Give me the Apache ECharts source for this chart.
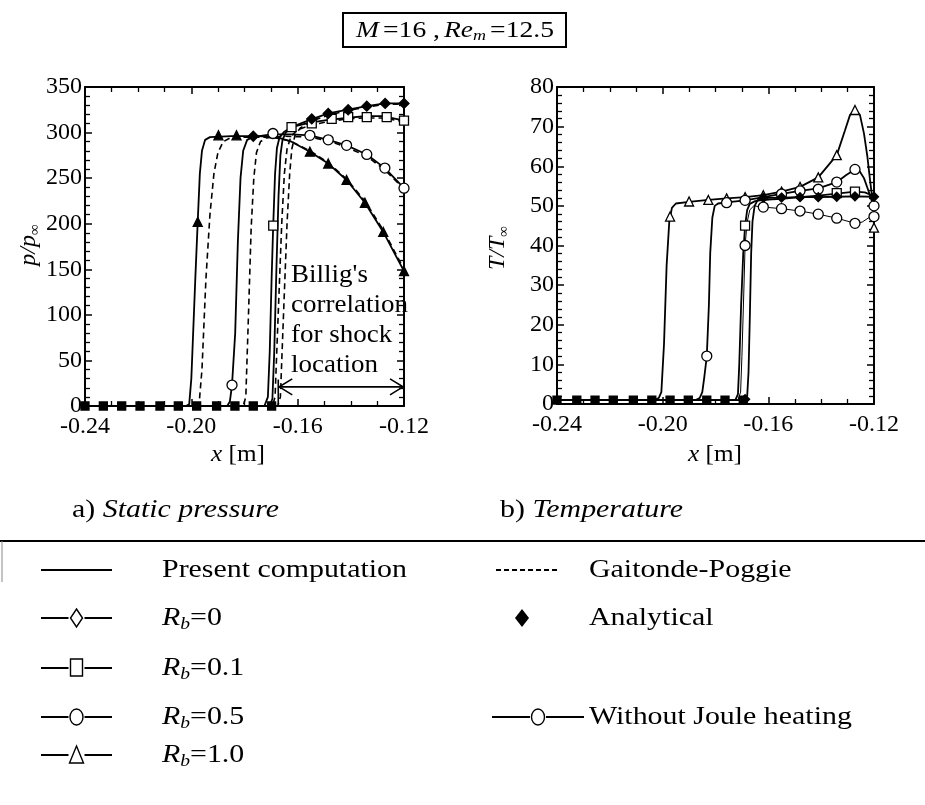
<!DOCTYPE html>
<html><head><meta charset="utf-8">
<script src="https://cdn.jsdelivr.net/npm/echarts@6/dist/echarts.min.js"></script>
<style>html,body{margin:0;padding:0;background:#fff}#c{width:925px;height:805px}</style>
</head><body><div id="c"></div>
<script>
// ---------- tick settings ----------
const xRange = [-0.24, -0.12];
const xStep = 0.04;
const pRange = [0, 350];
const pStep = 50;
const tRange = [0, 80];
const tStep = 10;

// ---------- (a) static pressure p/p_inf : present computation (solid) ----------
const pSolidRb1 = [[-0.24,0],[-0.202,0],[-0.2008,2],[-0.2,30],[-0.1985,140],[-0.1976,202],[-0.1968,255],[-0.196,280],[-0.1948,292],[-0.193,295],[-0.185,296],[-0.175,296],[-0.168,295],[-0.1623,290],[-0.1554,279],[-0.1485,266],[-0.1416,248],[-0.1347,223],[-0.1278,191],[-0.124,170],[-0.12,148]];
const pSolidRb05 = [[-0.24,0],[-0.1865,0],[-0.1855,5],[-0.1847,23],[-0.1835,80],[-0.1825,180],[-0.1815,250],[-0.1805,280],[-0.179,292],[-0.177,295],[-0.17,298],[-0.1623,298],[-0.1554,297],[-0.1485,292],[-0.1416,286],[-0.134,276],[-0.1272,261],[-0.12,239]];
const pSolidRb01 = [[-0.24,0],[-0.1725,0],[-0.1712,10],[-0.1705,60],[-0.1698,140],[-0.1692,198],[-0.1685,255],[-0.1678,283],[-0.1668,295],[-0.165,301],[-0.1623,306],[-0.1554,311],[-0.1485,314],[-0.1416,316],[-0.1347,318],[-0.1278,318],[-0.12,313]];
const pSolidRb0 = [[-0.24,0],[-0.1705,0],[-0.1695,8],[-0.1688,60],[-0.168,150],[-0.1672,230],[-0.1665,275],[-0.1657,292],[-0.1645,300],[-0.1623,306],[-0.1554,314],[-0.1485,321],[-0.1416,325],[-0.134,329],[-0.1272,332],[-0.12,332]];
// Gaitonde-Poggie (dashed)
const pDashRb1 = [[-0.24,0],[-0.198,0],[-0.197,5],[-0.196,40],[-0.1945,140],[-0.193,210],[-0.1915,255],[-0.19,278],[-0.188,290],[-0.1855,294],[-0.18,295],[-0.17,295],[-0.163,291],[-0.1554,280],[-0.1485,267],[-0.1416,249],[-0.1347,225],[-0.1278,193],[-0.12,150]];
const pDashRb05 = [[-0.24,0],[-0.1805,0],[-0.1795,10],[-0.1785,100],[-0.1775,195],[-0.1765,250],[-0.1755,278],[-0.174,290],[-0.172,294],[-0.165,296],[-0.1554,295],[-0.1485,291],[-0.1416,284],[-0.134,274],[-0.1272,259],[-0.12,238]];
const pDashRb01 = [[-0.24,0],[-0.1695,0],[-0.1685,10],[-0.1672,110],[-0.166,200],[-0.165,255],[-0.164,282],[-0.1625,296],[-0.16,303],[-0.1554,308],[-0.1485,312],[-0.1416,315],[-0.1347,316],[-0.1278,316],[-0.12,312]];
const pDashRb0 = [[-0.24,0],[-0.1675,0],[-0.1665,10],[-0.1652,110],[-0.164,200],[-0.163,255],[-0.1622,282],[-0.161,297],[-0.159,305],[-0.1554,312],[-0.1485,319],[-0.1416,324],[-0.134,328],[-0.1272,331],[-0.12,331]];
// markers
const pBaseMarks = [[-0.24,0],[-0.2331,0],[-0.2262,0],[-0.2193,0],[-0.2118,0],[-0.2049,0],[-0.198,0],[-0.1905,0],[-0.1836,0],[-0.1767,0],[-0.1698,0]];
const pRb1Marks = [[-0.1976,202],[-0.1898,297],[-0.183,297],[-0.1554,279],[-0.1485,266],[-0.1416,248],[-0.1347,223],[-0.1278,191],[-0.12,148]];
const pRb05Marks = [[-0.1847,23],[-0.1693,299],[-0.1554,297],[-0.1485,292],[-0.1416,286],[-0.134,276],[-0.1272,261],[-0.12,239]];
const pRb01Marks = [[-0.1692,198],[-0.1623,306],[-0.1547,310],[-0.1472,315],[-0.141,317],[-0.134,317],[-0.1265,317],[-0.12,313]];
const pRb0Marks = [[-0.1767,296],[-0.1547,315],[-0.1485,321],[-0.141,325],[-0.134,329],[-0.1271,332],[-0.12,332]];
// Billig's correlation: [x start, x end, arrow level, bar height]
const billigArrow = [[-0.1673, -0.12, 21, 29]];

// ---------- (b) temperature T/T_inf ----------
const tSolidRb1 = [[-0.24,1],[-0.203,1],[-0.2015,1.5],[-0.2005,3],[-0.1995,15],[-0.1985,35],[-0.1975,46],[-0.1965,49.5],[-0.195,50.6],[-0.19,51],[-0.1827,51.5],[-0.1758,51.9],[-0.1688,52.2],[-0.1619,52.7],[-0.155,53.6],[-0.148,54.8],[-0.1411,57.2],[-0.1341,62.8],[-0.131,69],[-0.1291,72.9],[-0.1272,74.4],[-0.1253,72.9],[-0.1238,68.3],[-0.1225,62.4],[-0.1215,56.5],[-0.1203,50],[-0.12,44.5]];
const tSolidRb05 = [[-0.24,1],[-0.1875,1],[-0.186,1.5],[-0.185,3],[-0.1842,7],[-0.1833,12],[-0.1825,25],[-0.182,38],[-0.1812,47],[-0.1803,50],[-0.179,50.6],[-0.1758,50.9],[-0.1688,51.4],[-0.1619,52.2],[-0.155,53],[-0.148,53.8],[-0.1411,54.4],[-0.1341,56],[-0.1305,57.8],[-0.1272,59.2],[-0.1255,58.8],[-0.1238,57],[-0.1222,54],[-0.121,51.5],[-0.12,50]];
const tSolidRb01 = [[-0.24,1],[-0.1725,1],[-0.1715,2.5],[-0.171,10],[-0.1703,25],[-0.1695,38],[-0.1688,45],[-0.168,49],[-0.167,50.5],[-0.165,51.2],[-0.1619,51.5],[-0.155,51.8],[-0.148,52.2],[-0.1411,52.6],[-0.1341,53.1],[-0.1272,53.6],[-0.1235,53.4],[-0.12,52.5]];
const tSolidRb0 = [[-0.24,1],[-0.169,1],[-0.168,2],[-0.1675,8],[-0.167,22],[-0.1665,38],[-0.166,46],[-0.1652,50],[-0.164,51.5],[-0.16,52],[-0.155,52.1],[-0.148,52.2],[-0.1411,52.2],[-0.1341,52.3],[-0.1272,52.4],[-0.12,52.3]];
const tNoJoule = [[-0.24,1],[-0.1715,1],[-0.1705,3],[-0.17,12],[-0.1693,28],[-0.1688,40],[-0.168,46],[-0.167,49],[-0.1655,50],[-0.1619,49.7],[-0.155,49.3],[-0.148,48.7],[-0.1411,47.9],[-0.1341,46.9],[-0.1272,45.6],[-0.1245,45.9],[-0.122,47],[-0.12,47.3]];
const tBaseMarks = [[-0.24,1],[-0.2325,1],[-0.2256,1],[-0.2187,1],[-0.2111,1],[-0.2041,1],[-0.1972,1],[-0.1903,1],[-0.1833,1],[-0.1764,1],[-0.1695,1]];
const tRb1Marks = [[-0.1972,47.3],[-0.19,51.1],[-0.1827,51.5],[-0.1758,51.9],[-0.1688,52.2],[-0.1619,52.7],[-0.155,53.6],[-0.148,54.8],[-0.1411,57.2],[-0.1341,62.8],[-0.1272,74.2],[-0.12,44.5]];
const tRb05Marks = [[-0.1833,12.1],[-0.1758,50.8],[-0.1688,51.4],[-0.155,53],[-0.148,53.8],[-0.1411,54.2],[-0.1341,56],[-0.1272,59.2],[-0.12,50]];
const tRb01Marks = [[-0.1688,45],[-0.1341,53.2],[-0.1272,53.6]];
const tRb0Marks = [[-0.1688,1.2],[-0.1619,52],[-0.155,52.1],[-0.148,52.2],[-0.1411,52.2],[-0.1341,52.3],[-0.1272,52.4],[-0.12,52.3]];
const tNoJouleMarks = [[-0.1688,40],[-0.1619,49.7],[-0.155,49.3],[-0.148,48.7],[-0.1411,47.9],[-0.1341,46.9],[-0.1272,45.6],[-0.12,47.3]];

// ---------- legend labels ----------
const legendRows = [
  ['solid', '{n|Present computation}', 'dash', '{n|Gaitonde-Poggie}'],
  ['diamond', '{i|R}{s|b}{n|=0}', 'fdiamond', '{n|Analytical}'],
  ['rect', '{i|R}{s|b}{n|=0.1}', null, null],
  ['circle', '{i|R}{s|b}{n|=0.5}', 'circle', '{n|Without Joule heating}'],
  ['triangle', '{i|R}{s|b}{n|=1.0}', null, null]
];

// ================= build =================
const F = "'Liberation Serif', 'Times New Roman', serif";
const chart = echarts.init(document.getElementById('c'));

function xAx(grid, pos, labels) {
  return {
    type: 'value', gridIndex: grid, position: pos, min: xRange[0], max: xRange[1], interval: xStep,
    axisLine: {show: true, onZero: false, lineStyle: {color: '#000', width: 2}},
    axisTick: {show: true, inside: true, length: 7, lineStyle: {color: '#000', width: 1.5}},
    minorTick: {show: true, splitNumber: 4, length: 5, lineStyle: {color: '#000', width: 1.3}},
    splitLine: {show: false}, minorSplitLine: {show: false},
    axisLabel: {show: labels, margin: 9, color: '#000', fontFamily: F, fontSize: 24,
      formatter: v => v.toFixed(2)}
  };
}
function yAx(grid, pos, rng, step, minor, labels) {
  return {
    type: 'value', gridIndex: grid, position: pos, min: rng[0], max: rng[1], interval: step,
    axisLine: {show: true, onZero: false, lineStyle: {color: '#000', width: 2}},
    axisTick: {show: true, inside: true, length: 7, lineStyle: {color: '#000', width: 1.5}},
    minorTick: {show: true, splitNumber: minor, length: 5, lineStyle: {color: '#000', width: 1.3}},
    splitLine: {show: false}, minorSplitLine: {show: false},
    axisLabel: {show: labels, margin: 3, color: '#000', fontFamily: F, fontSize: 24}
  };
}
function ln(data, xi, yi, width, dashed) {
  return {type: 'line', xAxisIndex: xi, yAxisIndex: yi, data: data, symbol: 'none', smooth: false,
    silent: true, animation: false, z: 2, clip: true,
    lineStyle: {color: '#000', width: width, type: dashed ? [6, 4] : 'solid'}};
}
function mk(data, xi, yi, symbol, size, filled) {
  return {type: 'scatter', xAxisIndex: xi, yAxisIndex: yi, data: data, symbol: symbol, symbolSize: size,
    silent: true, animation: false, z: 3,
    itemStyle: {color: filled ? '#000' : '#fff', borderColor: '#000', borderWidth: 1.3, opacity: 1}};
}

const series = [
  ln(pSolidRb1, 0, 0, 1.8), ln(pSolidRb05, 0, 0, 1.8), ln(pSolidRb01, 0, 0, 1.8), ln(pSolidRb0, 0, 0, 1.8),
  ln(pDashRb1, 0, 0, 1.6, true), ln(pDashRb05, 0, 0, 1.6, true), ln(pDashRb01, 0, 0, 1.6, true), ln(pDashRb0, 0, 0, 1.6, true),
  mk(pBaseMarks, 0, 0, 'rect', 8, true),
  mk(pRb1Marks, 0, 0, 'triangle', 9, true),
  mk(pRb05Marks, 0, 0, 'circle', 10, false),
  mk(pRb01Marks, 0, 0, 'rect', 9, false),
  mk(pRb0Marks, 0, 0, 'diamond', 10, true),
  {
    type: 'custom', xAxisIndex: 0, yAxisIndex: 0, data: billigArrow, silent: true, animation: false, z: 4,
    encode: {x: [0, 1], y: [2, 3]},
    renderItem: function (params, api) {
      const a = api.coord([api.value(0), api.value(2)]);
      const b = api.coord([api.value(1), api.value(2)]);
      const b0 = api.coord([api.value(0), 0]);
      const b1 = api.coord([api.value(0), api.value(3)]);
      const st = {stroke: '#000', lineWidth: 1.6, fill: null};
      return {type: 'group', children: [
        {type: 'line', shape: {x1: a[0], y1: a[1], x2: b[0], y2: b[1]}, style: st},
        {type: 'polyline', shape: {points: [[a[0] + 14, a[1] - 8], [a[0] + 1, a[1]], [a[0] + 14, a[1] + 8]]}, style: st},
        {type: 'polyline', shape: {points: [[b[0] - 14, b[1] - 8], [b[0] - 1, b[1]], [b[0] - 14, b[1] + 8]]}, style: st},
        {type: 'line', shape: {x1: b0[0], y1: b0[1], x2: b1[0], y2: b1[1]}, style: st}
      ]};
    }
  },
  ln(tSolidRb1, 2, 2, 1.8), ln(tSolidRb05, 2, 2, 1.8), ln(tSolidRb01, 2, 2, 1.8), ln(tSolidRb0, 2, 2, 1.8),
  ln(tNoJoule, 2, 2, 1.0),
  mk(tBaseMarks, 2, 2, 'rect', 8, true),
  mk(tRb1Marks, 2, 2, 'triangle', 9, false),
  mk(tRb05Marks, 2, 2, 'circle', 10, false),
  mk(tRb01Marks, 2, 2, 'rect', 9, false),
  mk(tRb0Marks, 2, 2, 'diamond', 9, true),
  mk(tNoJouleMarks, 2, 2, 'circle', 10, false)
];

// ---------- graphic (texts, legend) ----------
const rich = {
  n: {fontFamily: F, fontSize: 26, lineHeight: 30, color: '#000'},
  i: {fontFamily: F, fontSize: 26, fontStyle: 'italic', lineHeight: 30, color: '#000'},
  s: {fontFamily: F, fontSize: 17, fontStyle: 'italic', lineHeight: 14, verticalAlign: 'bottom', color: '#000'}
};
const SX = 1.15;
const g = [];
// title box
g.push({type: 'rect', shape: {x: 343, y: 13, width: 223, height: 34}, style: {fill: '#fff', stroke: '#000', lineWidth: 2}});
g.push({type: 'text', x: 455, y: 31, scaleX: 1.2, style: {
  text: '{i|M} {n|=16 ,} {i|Re}{s|m} {n|=12.5}', align: 'center', verticalAlign: 'middle',
  rich: {
    n: {fontFamily: F, fontSize: 23, lineHeight: 26, color: '#000'},
    i: {fontFamily: F, fontSize: 23, fontStyle: 'italic', lineHeight: 26, color: '#000'},
    s: {fontFamily: F, fontSize: 15, fontStyle: 'italic', lineHeight: 12, verticalAlign: 'bottom', color: '#000'}
  }}});
// axis titles
const axRich = {
  n: {fontFamily: F, fontSize: 24, lineHeight: 28, color: '#000'},
  i: {fontFamily: F, fontSize: 24, fontStyle: 'italic', lineHeight: 28, color: '#000'},
  s: {fontFamily: F, fontSize: 15, fontStyle: 'italic', lineHeight: 12, verticalAlign: 'bottom', color: '#000'}
};
g.push({type: 'text', x: 29, y: 245, rotation: Math.PI / 2, style: {text: '{i|p/p}{s|∞}', align: 'center', verticalAlign: 'middle', rich: axRich}});
g.push({type: 'text', x: 498, y: 248, rotation: Math.PI / 2, style: {text: '{i|T/T}{s|∞}', align: 'center', verticalAlign: 'middle', rich: axRich}});
g.push({type: 'text', x: 238, y: 455, scaleX: 1.05, style: {text: '{i|x}{n| [m]}', align: 'center', verticalAlign: 'middle', rich: axRich}});
g.push({type: 'text', x: 715, y: 455, scaleX: 1.05, style: {text: '{i|x}{n| [m]}', align: 'center', verticalAlign: 'middle', rich: axRich}});
// Billig's annotation
g.push({type: 'text', x: 291, y: 260, scaleX: 1.08, style: {text: "Billig's\ncorrelation\nfor shock\nlocation",
  fontFamily: F, fontSize: 25, lineHeight: 30, fill: '#000', align: 'left', verticalAlign: 'top'}});
// panel captions
g.push({type: 'text', x: 72, y: 510, scaleX: SX, style: {text: '{n|a) }{i|Static pressure}', align: 'left', verticalAlign: 'middle', rich: rich}});
g.push({type: 'text', x: 500, y: 510, scaleX: SX, style: {text: '{n|b) }{i|Temperature}', align: 'left', verticalAlign: 'middle', rich: rich}});
// separator
g.push({type: 'line', shape: {x1: 0, y1: 541, x2: 925, y2: 541}, style: {stroke: '#000', lineWidth: 2}});
g.push({type: 'line', shape: {x1: 2, y1: 541, x2: 2, y2: 582}, style: {stroke: '#888', lineWidth: 1}});

// legend
const rowY = [570, 618, 668, 717, 755];
function legSym(kind, x1, x2, y) {
  const cx = (x1 + x2) / 2;
  const st = {stroke: '#000', lineWidth: 2, fill: null};
  if (kind === 'solid') { g.push({type: 'line', shape: {x1: x1, y1: y, x2: x2, y2: y}, style: st}); return; }
  if (kind === 'dash') { g.push({type: 'line', shape: {x1: x1, y1: y, x2: x2, y2: y}, style: {stroke: '#000', lineWidth: 2, lineDash: [5, 3]}}); return; }
  if (kind === 'fdiamond') { g.push({type: 'polygon', shape: {points: [[cx, y - 9], [cx + 7, y], [cx, y + 9], [cx - 7, y]]}, style: {fill: '#000'}}); return; }
  const r = 8;
  g.push({type: 'line', shape: {x1: x1, y1: y, x2: cx - r, y2: y}, style: st});
  g.push({type: 'line', shape: {x1: cx + r, y1: y, x2: x2, y2: y}, style: st});
  const ss = {stroke: '#000', lineWidth: 1.4, fill: '#fff'};
  if (kind === 'diamond') g.push({type: 'polygon', shape: {points: [[cx, y - 9], [cx + 6, y], [cx, y + 9], [cx - 6, y]]}, style: ss});
  if (kind === 'rect') g.push({type: 'rect', shape: {x: cx - 6, y: y - 9, width: 12, height: 17}, style: ss});
  if (kind === 'circle') g.push({type: 'ellipse', shape: {cx: cx, cy: y, rx: 6.5, ry: 8}, style: ss});
  if (kind === 'triangle') g.push({type: 'polygon', shape: {points: [[cx, y - 9], [cx + 7, y + 8], [cx - 7, y + 8]]}, style: ss});
}
legendRows.forEach((row, k) => {
  const y = rowY[k];
  legSym(row[0], 41, 112, y);
  g.push({type: 'text', x: 162, y: y, scaleX: SX, style: {text: row[1], align: 'left', verticalAlign: 'middle', rich: rich}});
  if (row[2]) {
    if (row[2] === 'dash') legSym('dash', 496, 559, y);
    else if (row[2] === 'fdiamond') legSym('fdiamond', 516, 528, y);
    else legSym(row[2], 492, 584, y);
    g.push({type: 'text', x: 589, y: y, scaleX: SX, style: {text: row[3], align: 'left', verticalAlign: 'middle', rich: rich}});
  }
});

chart.setOption({
  animation: false,
  backgroundColor: '#fff',
  grid: [
    {left: 85, top: 87, width: 319, height: 319},
    {left: 557, top: 87, width: 317, height: 317}
  ],
  xAxis: [xAx(0, 'bottom', true), xAx(0, 'top', false), xAx(1, 'bottom', true), xAx(1, 'top', false)],
  yAxis: [yAx(0, 'left', pRange, pStep, 5, true), yAx(0, 'right', pRange, pStep, 5, false),
          yAx(1, 'left', tRange, tStep, 5, true), yAx(1, 'right', tRange, tStep, 5, false)],
  series: series,
  graphic: {elements: g}
});
</script></body></html>
